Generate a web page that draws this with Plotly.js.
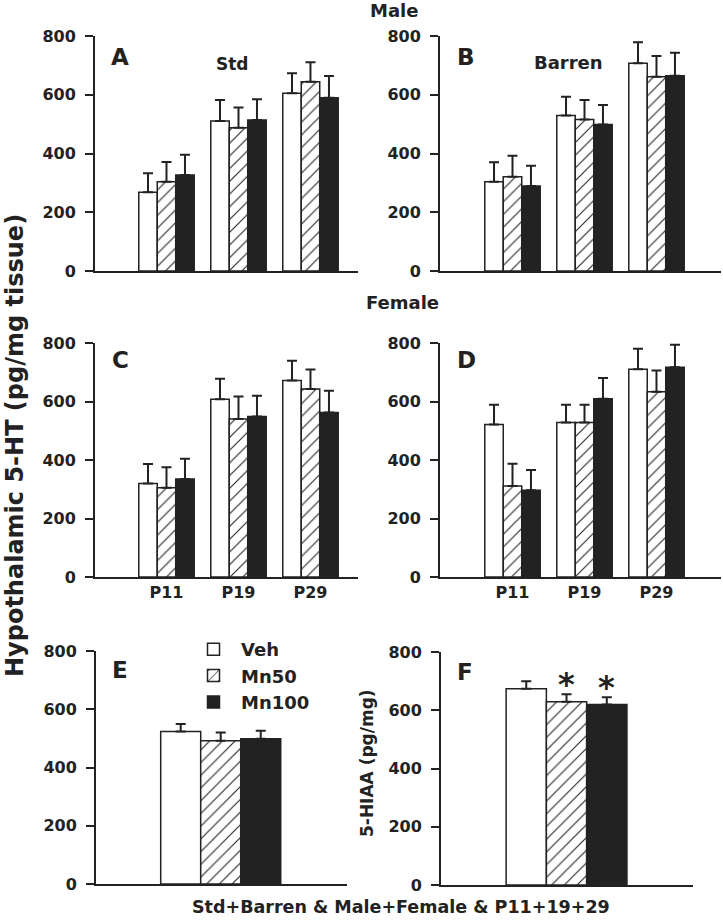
<!DOCTYPE html>
<html>
<head>
<meta charset="utf-8">
<script src="https://cdn.plot.ly/plotly-3.0.1.min.js"></script>
<style>
  html, body { margin: 0; padding: 0; background: #fff; }
  #plot { width: 723px; height: 920px; }
</style>
</head>
<body>
<div id="plot"></div>
<script>
const groups = ['P11', 'P19', 'P29'];
const series = ['Veh', 'Mn50', 'Mn100'];

// rows: Veh, Mn50, Mn100 ; cols: P11, P19, P29
const stdMale = [[268, 511, 605], [304, 488, 644], [327, 514, 590]];
const stdMaleErr = [[65, 71, 68], [67, 69, 67], [69, 71, 74]];
const barrenMale = [[304, 529, 707], [321, 516, 661], [289, 499, 665]];
const barrenMaleErr = [[66, 64, 72], [71, 66, 71], [69, 66, 78]];
const stdFemale = [[320, 608, 672], [305, 540, 643], [335, 549, 562]];
const stdFemaleErr = [[66, 70, 67], [70, 77, 66], [69, 71, 75]];
const barrenFemale = [[521, 528, 710], [311, 528, 633], [297, 609, 717]];
const barrenFemaleErr = [[68, 61, 70], [76, 61, 73], [69, 71, 77]];

// pooled (Std+Barren & Male+Female & P11+19+29)
const pooled5HT = [524, 492, 499];
const pooled5HTErr = [25, 28, 27];
const pooledHIAA = [674, 629, 620];
const pooledHIAAErr = [26, 26, 25];
const hiaaSig = ['', '*', '*'];

const ink = '#222';
const fam = 'DejaVu Sans';
const bargap = 0.23;

function look(i){
    if(i === 0) return {color: 'white', line: {color: ink, width: 1.5}};
    if(i === 1) return {color: 'white', line: {color: ink, width: 1.5},
        pattern: {shape: '/', fgcolor: ink, bgcolor: 'white', size: 9, solidity: 0.12}};
    return {color: ink, line: {color: ink, width: 1.5}};
}

function errBar(arr){
    return {type: 'data', symmetric: false, array: arr, arrayminus: arr.map(() => 0),
        color: ink, thickness: 2, width: 5};
}

let data = [];
const panels = [[stdMale, stdMaleErr], [barrenMale, barrenMaleErr],
                [stdFemale, stdFemaleErr], [barrenFemale, barrenFemaleErr]];
panels.forEach(function(p, k){
    let sfx = k === 0 ? '' : String(k + 1);
    for(let i = 0; i < 3; i++){
        data.push({type: 'bar', x: groups, y: p[0][i], name: series[i],
            marker: look(i), error_y: errBar(p[1][i]),
            xaxis: 'x' + sfx, yaxis: 'y' + sfx, showlegend: false, legendgroup: series[i]});
    }
});
for(let i = 0; i < 3; i++){
    data.push({type: 'bar', x: [0], y: [pooled5HT[i]], name: series[i],
        marker: look(i), error_y: errBar([pooled5HTErr[i]]),
        xaxis: 'x5', yaxis: 'y5', showlegend: true, legendgroup: series[i]});
    data.push({type: 'bar', x: [0], y: [pooledHIAA[i]], name: series[i],
        marker: look(i), error_y: errBar([pooledHIAAErr[i]]),
        xaxis: 'x6', yaxis: 'y6', showlegend: false, legendgroup: series[i]});
}

const tickFont = {family: fam, size: 16, color: ink, weight: 'bold'};

function yax(top, bot, anchor){
    return {domain: [1 - bot / 920, 1 - top / 920], range: [0, 800], dtick: 200,
        showline: true, linecolor: ink, linewidth: 2, ticks: 'outside', ticklen: 8,
        tickwidth: 2, tickcolor: ink, tickfont: tickFont, showgrid: false,
        zeroline: false, anchor: anchor, ticklabelstandoff: 6, fixedrange: true};
}
function xax(l, r, range, anchor, labels){
    return {domain: [l / 723, r / 723], range: range, showline: true, linecolor: ink,
        linewidth: 2, ticks: '', showticklabels: labels, tickfont: tickFont,
        showgrid: false, zeroline: false, anchor: anchor, fixedrange: true};
}

let step = (1 - bargap) / 3;
let annotations = [];
function txt(t, x, y, size, extra){
    annotations.push(Object.assign({text: t, xref: 'paper', yref: 'paper',
        x: x / 723, y: 1 - y / 920, showarrow: false, xanchor: 'center', yanchor: 'middle',
        font: {family: fam, size: size, color: ink, weight: 'bold'}}, extra || {}));
}
txt('Hypothalamic 5-HT (pg/mg tissue)', 15, 446, 24, {textangle: -90});
txt('Male', 394, 10, 18);
txt('Female', 402, 303, 18);
txt('A', 120, 57, 23);
txt('Std', 232, 64, 17);
txt('B', 466, 57, 23);
txt('Barren', 568, 63, 18);
txt('C', 120, 360, 23);
txt('D', 466, 360, 23);
txt('E', 120, 670, 23);
txt('F', 465, 672, 23);
txt('Std+Barren & Male+Female & P11+19+29', 401, 907, 17.5);
txt('5-HIAA (pg/mg)', 367, 763, 17, {textangle: -90});

hiaaSig.forEach(function(s, i){
    if(!s) return;
    annotations.push({text: s, xref: 'x6', yref: 'y6', x: (i - 1) * step,
        y: pooledHIAA[i] + pooledHIAAErr[i] + 34, showarrow: false,
        xanchor: 'center', yanchor: 'middle',
        font: {family: fam, size: 32, color: ink, weight: 'bold'}});
});

let layout = {
    width: 723, height: 920,
    margin: {l: 0, r: 0, t: 0, b: 0},
    paper_bgcolor: 'white', plot_bgcolor: 'white',
    barmode: 'group', bargap: bargap, bargroupgap: 0,
    showlegend: true,
    legend: {x: 186 / 723, y: 1 - 631 / 920, xanchor: 'left', yanchor: 'top',
        font: {family: fam, size: 18, color: ink, weight: 'bold'},
        itemwidth: 45,
        bgcolor: 'rgba(0,0,0,0)', tracegroupgap: 10, traceorder: 'normal'},
    xaxis: xax(95, 358, [-0.993, 2.66], 'y', false),
    yaxis: yax(36, 271, 'x'),
    xaxis2: xax(440, 721, [-1.007, 2.896], 'y2', false),
    yaxis2: yax(36, 271, 'x2'),
    xaxis3: xax(95, 358, [-0.993, 2.66], 'y3', true),
    yaxis3: yax(343, 577, 'x3'),
    xaxis4: xax(440, 721, [-1.007, 2.896], 'y4', true),
    yaxis4: yax(343, 577, 'x4'),
    xaxis5: xax(96, 347, [-0.80, 0.81], 'y5', false),
    yaxis5: yax(651, 884, 'x5'),
    xaxis6: xax(441, 693, [-0.80, 0.806], 'y6', false),
    yaxis6: yax(652, 885, 'x6'),
    annotations: annotations
};

Plotly.newPlot('plot', data, layout, {displayModeBar: false, staticPlot: true});
</script>
</body>
</html>
